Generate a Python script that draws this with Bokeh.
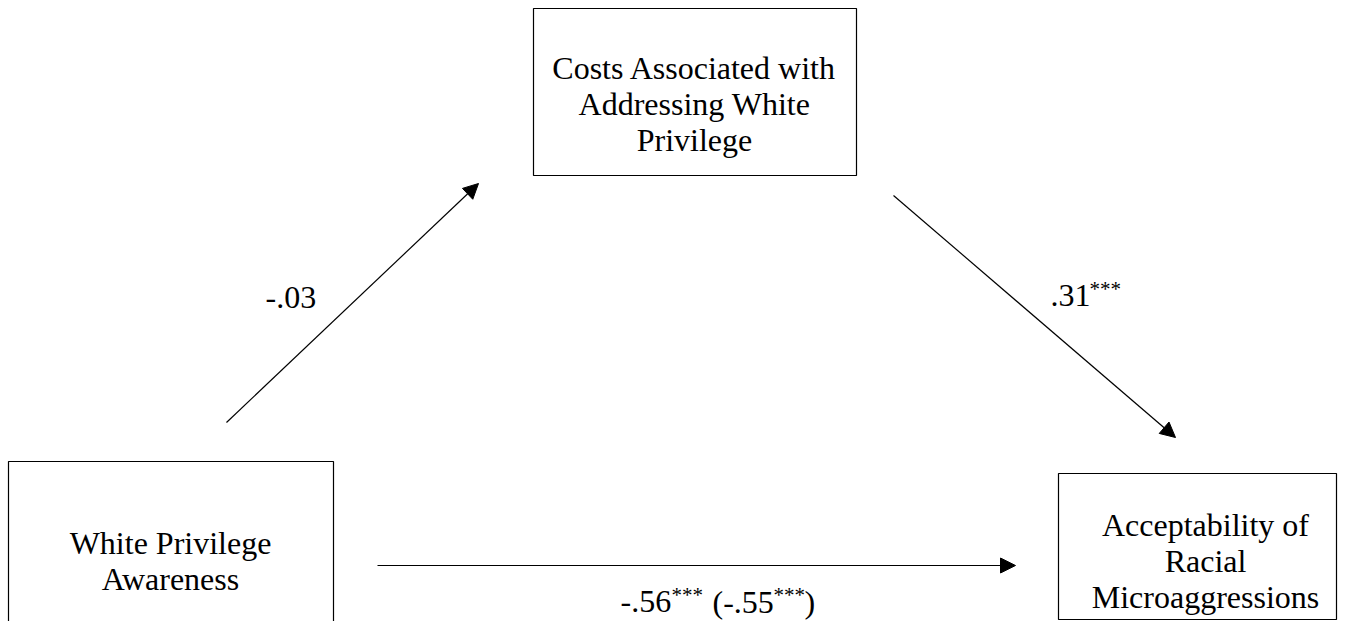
from bokeh.plotting import figure
from bokeh.models import Range1d, Arrow, NormalHead
from bokeh.core.properties import value
from bokeh.embed import file_html
from bokeh.resources import INLINE

# ---- diagram content ----
node_names = ["White Privilege Awareness",
              "Costs Associated with Addressing White Privilege",
              "Acceptability of Racial Microaggressions"]
node_lines = [["White Privilege", "Awareness"],
              ["Costs Associated with", "Addressing White", "Privilege"],
              ["Acceptability of", "Racial", "Microaggressions"]]
path_labels = ["a", "b", "c"]
path_coefs = ["-.03", ".31", "-.56"]
path_stars = ["", "***", "***"]
direct_coef = "-.55"
direct_stars = "***"

# ---- layout (pixel-like coordinates, y downward) ----
W, H = 1338, 621
FONT = value("Liberation Serif")
FS = "32px"
SUP = "21px"
box_l = [8, 533, 1058]
box_r = [333, 856, W - 2]
box_t = [461, 8, 473]
box_b = [660, 175, H - 2]
text_cx = [170, 694, 1205]
line_baselines = [[542, 578], [67, 103, 139], [524, 560, 596]]

p = figure(width=W, height=H, output_backend="svg", toolbar_location=None,
           x_range=Range1d(0, W), y_range=Range1d(H, 0),
           min_border=0, background_fill_color="white", border_fill_color="white")
p.axis.visible = False
p.grid.visible = False
p.outline_line_color = None

p.quad(left=box_l, right=box_r, top=box_t, bottom=box_b,
       fill_color=None, line_color="black", line_width=1.2)

for i, lines in enumerate(node_lines):
    p.text(x=[text_cx[i]] * len(lines), y=line_baselines[i], text=lines,
           text_font=FONT, text_font_size=FS, text_align="center",
           text_baseline="alphabetic", text_color="black")

# arrows
arrows = [((226, 422), (478, 183)), ((893, 195), (1175, 437)), ((377, 565), (1015, 565))]
for (x0, y0), (x1, y1) in arrows:
    p.add_layout(Arrow(x_start=x0, y_start=y0, x_end=x1, y_end=y1,
                       line_color="black", line_width=1.2,
                       end=NormalHead(size=15, fill_color="black", line_color="black")))

def txt(x, y, s, size, align="left"):
    p.text(x=[x], y=[y], text=[s], text_font=FONT, text_font_size=size,
           text_align=align, text_baseline="alphabetic", text_color="black")

# path a
txt(265, 297, path_coefs[0], FS)
# path b
txt(1050, 295, path_coefs[1], FS)
txt(1089, 288, path_stars[1], SUP)
# path c (with direct effect in parentheses)
BY = 601
txt(620, BY, path_coefs[2], FS)
txt(671, BY - 7, path_stars[2], SUP)
txt(712, BY, "(" + direct_coef, FS)
txt(773, BY - 7, direct_stars, SUP)
txt(804, BY, ")", FS)

open("out.html", "w").write(file_html(p, INLINE))
